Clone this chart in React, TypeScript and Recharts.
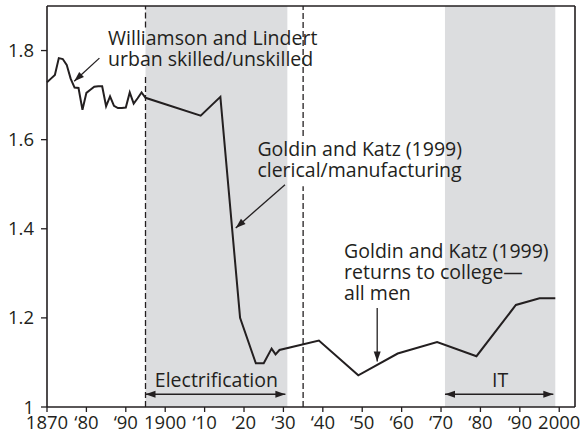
import React from "react";
import {
  ComposedChart,
  Line,
  XAxis,
  YAxis,
  ReferenceArea,
  ReferenceLine,
  ReferenceDot,
} from "recharts";

// wage premium series (Williamson-Lindert, then Goldin-Katz)
const years = [
  1870, 1871, 1872, 1873, 1874, 1875, 1876, 1877, 1878, 1879, 1880, 1881, 1882,
  1883, 1884, 1885, 1886, 1887, 1888, 1889, 1890, 1891, 1892, 1893, 1894, 1895,
  1909, 1914, 1919, 1923, 1925, 1927, 1928, 1929, 1939, 1949, 1959, 1969, 1979,
  1989, 1995, 1999,
];
const premium = [
  1.729, 1.737, 1.745, 1.783, 1.781, 1.768, 1.737, 1.717, 1.716, 1.667, 1.705,
  1.712, 1.719, 1.72, 1.72, 1.675, 1.697, 1.676, 1.671, 1.671, 1.672, 1.706,
  1.681, 1.693, 1.706, 1.694, 1.654, 1.696, 1.2, 1.098, 1.098, 1.131, 1.118,
  1.128, 1.149, 1.071, 1.12, 1.146, 1.114, 1.229, 1.244, 1.244,
];

const xTicks = [1870, 1880, 1890, 1900, 1910, 1920, 1930, 1940, 1950, 1960, 1970, 1980, 1990, 2000];
const yTicks = [1, 1.2, 1.4, 1.6, 1.8];

const periodNames = ["Electrification", "IT"];
const periodStart = [1895, 1971];
const periodEnd = [1931, 1999];

const data = years.map((year, i) => ({ year, premium: premium[i] }));

const ink = "#231f20";
const shade = "#dcdddf";
const font = "Open Sans";
const X_MAX = 2004;
const Y_MAX = 1.9;

// text notes, anchored in data space
const notes = [
  { lines: ["Williamson and Lindert", "urban skilled/unskilled"], year: 1885.5, value: 1.812 },
  { lines: ["Goldin and Katz (1999)", "clerical/manufacturing"], year: 1923.4, value: 1.563 },
  { lines: ["Goldin and Katz (1999)", "returns to college\u2014", "all men"], year: 1945.4, value: 1.334 },
];

const pointers = [
  { from: [1883.3, 1.783], to: [1876.9, 1.731] },
  { from: [1930.4, 1.499], to: [1917.9, 1.402] },
  { from: [1953.8, 1.222], to: [1953.8, 1.102] },
];

// dashed dividers, broken where text sits over them
const dividerSegments = [
  [1895, 1, 1.747],
  [1895, 1.852, Y_MAX],
  [1935, 1, 1.4955],
  [1935, 1.608, Y_MAX],
];

const periodArrowY = 1.0286;
const periodLabelY = 1.045;

function head(tx: number, ty: number, fx: number, fy: number) {
  const a = Math.atan2(ty - fy, tx - fx);
  const len = 10;
  const w = 3.5;
  const bx = tx - len * Math.cos(a);
  const by = ty - len * Math.sin(a);
  const px = -Math.sin(a) * w;
  const py = Math.cos(a) * w;
  return `${tx},${ty} ${bx + px},${by + py} ${bx - px},${by - py}`;
}

const arrow = (both: boolean) => (p: any) => {
  const { x1, y1, x2, y2 } = p;
  return (
    <g>
      <line x1={x1} y1={y1} x2={x2} y2={y2} stroke={ink} strokeWidth={1.3} />
      <polygon points={head(x2, y2, x1, y1)} fill={ink} />
      {both && <polygon points={head(x1, y1, x2, y2)} fill={ink} />}
    </g>
  );
};

const noteShape = (lines: string[], anchor: "start" | "middle") => (p: any) => (
  <text x={p.cx} y={p.cy} fill={ink} fontFamily={font} fontSize={19.5} textAnchor={anchor}>
    {lines.map((l, i) => (
      <tspan key={i} x={p.cx} dy={i === 0 ? 0 : 21}>
        {l}
      </tspan>
    ))}
  </text>
);

const fmtYear = (v: number) =>
  v === 1870 || v === 1900 || v === 2000 ? String(v) : "\u2018" + String(v).slice(2);

export default function App() {
  return (
    <div style={{ position: "absolute", left: 0, top: 0, width: 580, height: 444, background: "#fff" }}>
      <ComposedChart width={580} height={444} data={data} margin={{ top: 6, right: 5, left: 0, bottom: 0 }}>
        {periodNames.map((n, i) => (
          <ReferenceArea
            key={n}
            x1={periodStart[i]}
            x2={periodEnd[i]}
            y1={1}
            y2={Y_MAX}
            fill={shade}
            fillOpacity={1}
            stroke="none"
          />
        ))}
        {dividerSegments.map((s, i) => (
          <ReferenceLine
            key={"d" + i}
            segment={[
              { x: s[0], y: s[1] },
              { x: s[0], y: s[2] },
            ]}
            stroke={ink}
            strokeWidth={1.3}
            strokeDasharray="6 3"
          />
        ))}
        <XAxis
          dataKey="year"
          type="number"
          domain={[1870, X_MAX]}
          ticks={xTicks}
          tickFormatter={fmtYear}
          interval={0}
          height={37}
          tickSize={5}
          tickMargin={4}
          axisLine={{ stroke: ink, strokeWidth: 1.6 }}
          tickLine={{ stroke: ink, strokeWidth: 1.3 }}
          tick={{ fill: ink, fontSize: 18.5, fontFamily: font }}
        />
        <YAxis
          type="number"
          domain={[1, Y_MAX]}
          ticks={yTicks}
          tickFormatter={(v: number) => (v === 1 ? "1" : v.toFixed(1))}
          width={47}
          tickSize={6}
          tickMargin={7}
          axisLine={{ stroke: ink, strokeWidth: 1.6 }}
          tickLine={{ stroke: ink, strokeWidth: 1.3 }}
          tick={{ fill: ink, fontSize: 18.5, fontFamily: font }}
        />
        <ReferenceLine y={Y_MAX} stroke={ink} strokeWidth={1.6} />
        <ReferenceLine x={X_MAX} stroke={ink} strokeWidth={1.6} />
        <Line
          dataKey="premium"
          type="linear"
          stroke={ink}
          strokeWidth={2}
          dot={false}
          isAnimationActive={false}
        />
        {pointers.map((p, i) => (
          <ReferenceLine
            key={"p" + i}
            segment={[
              { x: p.from[0], y: p.from[1] },
              { x: p.to[0], y: p.to[1] },
            ]}
            shape={arrow(false)}
          />
        ))}
        {periodNames.map((n, i) => (
          <ReferenceLine
            key={"a" + n}
            segment={[
              { x: periodStart[i], y: periodArrowY },
              { x: periodEnd[i] - 0.5, y: periodArrowY },
            ]}
            shape={arrow(true)}
          />
        ))}
        {periodNames.map((n, i) => (
          <ReferenceDot
            key={"l" + n}
            x={(periodStart[i] + periodEnd[i]) / 2}
            y={periodLabelY}
            shape={noteShape([n], "middle")}
          />
        ))}
        {notes.map((n, i) => (
          <ReferenceDot key={"n" + i} x={n.year} y={n.value} shape={noteShape(n.lines, "start")} />
        ))}
      </ComposedChart>
    </div>
  );
}
